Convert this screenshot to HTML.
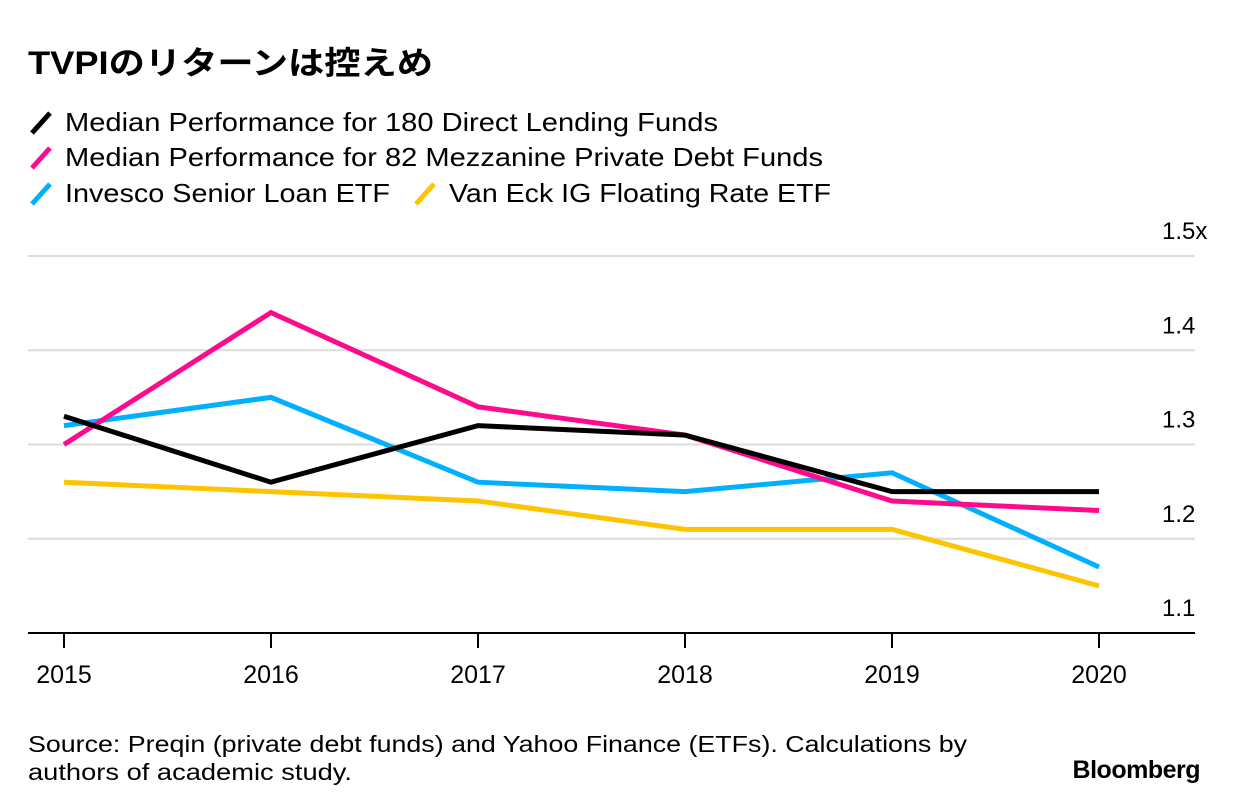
<!DOCTYPE html>
<html><head><meta charset="utf-8"><style>
body{margin:0;background:#fff;width:1240px;height:812px;overflow:hidden;font-family:"Liberation Sans","Noto Sans CJK JP",sans-serif;}
svg{position:absolute;left:0;top:0}
</style></head><body>
<svg id="c" width="1240" height="812">
<text x="28" y="74" font-size="32" font-weight="bold" fill="#000" textLength="405" lengthAdjust="spacingAndGlyphs">TVPIのリターンは控えめ</text>
<g>
<line x1="32" y1="133" x2="50" y2="113" stroke="#000" stroke-width="5"/>
<text x="65" y="131" font-size="26" textLength="653" lengthAdjust="spacingAndGlyphs">Median Performance for 180 Direct Lending Funds</text>
<line x1="32" y1="168" x2="50" y2="148" stroke="#ff0a8c" stroke-width="5"/>
<text x="65" y="166" font-size="26" textLength="758" lengthAdjust="spacingAndGlyphs">Median Performance for 82 Mezzanine Private Debt Funds</text>
<line x1="32" y1="204" x2="50" y2="184" stroke="#00b0ff" stroke-width="5"/>
<text x="65" y="202" font-size="26" textLength="325" lengthAdjust="spacingAndGlyphs">Invesco Senior Loan ETF</text>
<line x1="416" y1="204" x2="434" y2="184" stroke="#ffc400" stroke-width="5"/>
<text x="449" y="202" font-size="26" textLength="382" lengthAdjust="spacingAndGlyphs">Van Eck IG Floating Rate ETF</text>
</g>
<g id="grid"></g><g id="series"></g><g id="xax"></g>
<text x="28" y="752" font-size="23" fill="#000" textLength="939" lengthAdjust="spacingAndGlyphs">Source: Preqin (private debt funds) and Yahoo Finance (ETFs). Calculations by</text>
<text x="28" y="780" font-size="23" fill="#000" textLength="324" lengthAdjust="spacingAndGlyphs">authors of academic study.</text>
<text x="1200" y="778" font-size="25" font-weight="bold" text-anchor="end" letter-spacing="-0.5">Bloomberg</text>
</svg>
<script>
const years=["2015","2016","2017","2018","2019","2020"];
const directLending=[1.33,1.26,1.32,1.31,1.25,1.25];
const mezzanine=[1.30,1.44,1.34,1.31,1.24,1.23];
const invesco=[1.32,1.35,1.26,1.25,1.27,1.17];
const vanEck=[1.26,1.25,1.24,1.21,1.21,1.15];
const yTicks=[1.1,1.2,1.3,1.4,1.5];
const yTickLabels=["1.1","1.2","1.3","1.4","1.5x"];
const NS="http://www.w3.org/2000/svg";
const X=i=>64+i*207;
const Y=v=>633-(v-1.1)*942.5;
const grid=document.getElementById('grid');
yTicks.forEach((t,i)=>{
 if(i>0){const l=document.createElementNS(NS,'line');
 l.setAttribute('x1',28);l.setAttribute('x2',1195);l.setAttribute('y1',Y(t));l.setAttribute('y2',Y(t));
 l.setAttribute('stroke','#dcdcdc');l.setAttribute('stroke-width',2);
 
 
 grid.appendChild(l);}
 const tx=document.createElementNS(NS,'text');
 tx.setAttribute('x',1162);tx.setAttribute('y',Y(t)-17);tx.setAttribute('font-size',24);
 tx.textContent=yTickLabels[i];
 
 
 grid.appendChild(tx);
});
const ser=document.getElementById('series');
[[vanEck,'#ffc400','line-vaneck'],[invesco,'#00b0ff','line-invesco'],[mezzanine,'#ff0a8c','line-mezzanine'],[directLending,'#000','line-direct-lending']].forEach(([d,c,n])=>{
 const p=document.createElementNS(NS,'polyline');
 p.setAttribute('points',d.map((v,i)=>X(i)+','+Y(v)).join(' '));
 p.setAttribute('fill','none');p.setAttribute('stroke',c);p.setAttribute('stroke-width',5);
 
 
 ser.appendChild(p);
});
const xa=document.getElementById('xax');
const ax=document.createElementNS(NS,'line');
ax.setAttribute('x1',28);ax.setAttribute('x2',1195);ax.setAttribute('y1',633);ax.setAttribute('y2',633);
ax.setAttribute('stroke','#000');ax.setAttribute('stroke-width',2);


xa.appendChild(ax);
years.forEach((y,i)=>{
 const t=document.createElementNS(NS,'line');
 t.setAttribute('x1',X(i));t.setAttribute('x2',X(i));t.setAttribute('y1',633);t.setAttribute('y2',648);
 t.setAttribute('stroke','#000');t.setAttribute('stroke-width',2);
 
 
 xa.appendChild(t);
 const tx=document.createElementNS(NS,'text');
 tx.setAttribute('x',X(i));tx.setAttribute('y',683);tx.setAttribute('font-size',25);tx.setAttribute('text-anchor','middle');
 tx.textContent=y;
 
 
 xa.appendChild(tx);
});
</script>
</body></html>
